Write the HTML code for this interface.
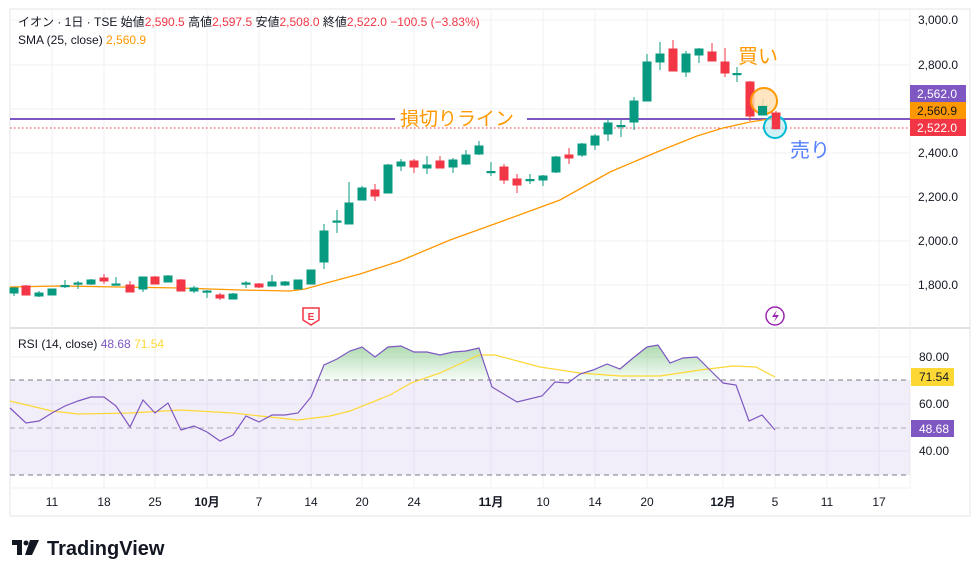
<!DOCTYPE html>
<html><head><meta charset="utf-8"><style>
body{margin:0;background:#fff;width:980px;height:577px;overflow:hidden;font-family:"Liberation Sans","Noto Sans CJK JP",sans-serif}
svg text{font-family:"Liberation Sans","Noto Sans CJK JP",sans-serif}
</style></head><body>
<svg width="980" height="577" viewBox="0 0 980 577" xmlns="http://www.w3.org/2000/svg">
<defs>
<linearGradient id="gf" x1="0" y1="340" x2="0" y2="380" gradientUnits="userSpaceOnUse"><stop offset="0" stop-color="#66bb6a" stop-opacity="0.6"/><stop offset="1" stop-color="#66bb6a" stop-opacity="0.05"/></linearGradient>
<clipPath id="above"><rect x="10" y="330" width="900" height="50"/></clipPath>
</defs>
<rect x="10" y="9" width="960" height="507" fill="none" stroke="#e6e6ea"/>
<line x1="10" y1="328" x2="970" y2="328" stroke="#e0e0e6" stroke-width="2"/>
<line x1="910" y1="9" x2="910" y2="488" stroke="#f0f0f3"/>
<!-- grid -->
<g stroke="#f0f0f3">
<line x1="10" y1="20" x2="910" y2="20"/><line x1="10" y1="65" x2="910" y2="65"/><line x1="10" y1="109" x2="910" y2="109"/><line x1="10" y1="153" x2="910" y2="153"/><line x1="10" y1="197" x2="910" y2="197"/><line x1="10" y1="241" x2="910" y2="241"/><line x1="10" y1="285" x2="910" y2="285"/>
<line x1="10" y1="357" x2="910" y2="357"/><line x1="10" y1="404" x2="910" y2="404"/><line x1="10" y1="451" x2="910" y2="451"/>
<line x1="52" y1="10" x2="52" y2="488"/><line x1="104" y1="10" x2="104" y2="488"/><line x1="155" y1="10" x2="155" y2="488"/><line x1="207" y1="10" x2="207" y2="488"/><line x1="259" y1="10" x2="259" y2="488"/><line x1="311" y1="10" x2="311" y2="488"/><line x1="362" y1="10" x2="362" y2="488"/><line x1="414" y1="10" x2="414" y2="488"/><line x1="491" y1="10" x2="491" y2="488"/><line x1="543" y1="10" x2="543" y2="488"/><line x1="595" y1="10" x2="595" y2="488"/><line x1="647" y1="10" x2="647" y2="488"/><line x1="723" y1="10" x2="723" y2="488"/><line x1="775" y1="10" x2="775" y2="488"/><line x1="827" y1="10" x2="827" y2="488"/><line x1="879" y1="10" x2="879" y2="488"/>
</g>
<!-- legend -->
<text x="18" y="26" font-size="12" fill="#131722">イオン · 1日 · TSE  始値<tspan fill="#f23645">2,590.5</tspan>  高値<tspan fill="#f23645">2,597.5</tspan>  安値<tspan fill="#f23645">2,508.0</tspan>  終値<tspan fill="#f23645">2,522.0  −100.5 (−3.83%)</tspan></text>
<text x="18" y="44" font-size="12" fill="#131722">SMA (25, close)  <tspan fill="#ff9800">2,560.9</tspan></text>
<!-- lines -->
<line x1="10" y1="119" x2="395" y2="119" stroke="#7e57c2" stroke-width="2"/>
<line x1="527" y1="119" x2="910" y2="119" stroke="#7e57c2" stroke-width="2"/>
<line x1="10" y1="128" x2="910" y2="128" stroke="#f23645" stroke-dasharray="1.5,2.5"/>
<text x="400" y="125" font-size="19" fill="#ff9800">損切りライン</text>
<polyline fill="none" stroke="#ff9800" stroke-width="1.3" points="10,287 60,286 120,287 180,288 240,290 290,291 305,289 330,282 360,274 400,261 450,240 500,222 560,200 610,172 657,152 697,136 723,128 750,122 776,118"/>
<!-- candles -->
<g stroke-width="1">
<g stroke="#089981" fill="#089981">
<line x1="14" y1="287" x2="14" y2="296"/><rect x="10" y="288" width="8" height="5"/>
<line x1="39" y1="291" x2="39" y2="297"/><rect x="35" y="293" width="8" height="3"/>
<line x1="52" y1="289" x2="52" y2="295"/><rect x="48" y="289" width="8" height="6"/>
<line x1="65" y1="280" x2="65" y2="288"/><rect x="61" y="285.5" width="8" height="1.2"/>
<line x1="78" y1="281" x2="78" y2="289"/><rect x="74" y="283" width="8" height="1.2"/>
<line x1="91" y1="279" x2="91" y2="285"/><rect x="87" y="280" width="8" height="4"/>
<line x1="116" y1="277" x2="116" y2="285"/><rect x="112" y="284" width="8" height="1.2"/>
<line x1="143" y1="277" x2="143" y2="292"/><rect x="139" y="277" width="8" height="12"/>
<line x1="168" y1="275" x2="168" y2="282"/><rect x="164" y="276" width="8" height="6"/>
<line x1="194" y1="286" x2="194" y2="293"/><rect x="190" y="288" width="8" height="3"/>
<line x1="207" y1="290" x2="207" y2="298"/><rect x="203" y="291" width="8" height="1.2"/>
<line x1="233" y1="293" x2="233" y2="299"/><rect x="229" y="294" width="8" height="5"/>
<line x1="246" y1="281" x2="246" y2="288"/><rect x="242" y="283" width="8" height="1.2"/>
<line x1="272" y1="275" x2="272" y2="286"/><rect x="268" y="282" width="8" height="4"/>
<line x1="285" y1="281" x2="285" y2="286"/><rect x="281" y="282" width="8" height="3"/>
<line x1="298" y1="280" x2="298" y2="289"/><rect x="294" y="280" width="8" height="9"/>
<line x1="311" y1="270" x2="311" y2="284"/><rect x="307" y="270" width="8" height="14"/>
<line x1="324" y1="224" x2="324" y2="269"/><rect x="320" y="231" width="8" height="31"/>
<line x1="337" y1="210" x2="337" y2="233"/><rect x="333" y="221" width="8" height="1.2"/>
<line x1="349" y1="182" x2="349" y2="224"/><rect x="345" y="203" width="8" height="21"/>
<line x1="362" y1="186" x2="362" y2="200"/><rect x="358" y="188" width="8" height="12"/>
<line x1="388" y1="164" x2="388" y2="193"/><rect x="384" y="165" width="8" height="28"/>
<line x1="401" y1="159" x2="401" y2="171"/><rect x="397" y="162" width="8" height="4"/>
<line x1="427" y1="156" x2="427" y2="174"/><rect x="423" y="165" width="8" height="3"/>
<line x1="453" y1="158" x2="453" y2="173"/><rect x="449" y="160" width="8" height="7"/>
<line x1="466" y1="150" x2="466" y2="165"/><rect x="462" y="155" width="8" height="9"/>
<line x1="479" y1="141" x2="479" y2="155"/><rect x="475" y="146" width="8" height="8"/>
<line x1="491" y1="162" x2="491" y2="176"/><rect x="487" y="171.5" width="8" height="1.2"/>
<line x1="530" y1="174" x2="530" y2="184"/><rect x="526" y="179.5" width="8" height="1.2"/>
<line x1="543" y1="175" x2="543" y2="186"/><rect x="539" y="176" width="8" height="4"/>
<line x1="556" y1="156" x2="556" y2="173"/><rect x="552" y="157" width="8" height="15"/>
<line x1="582" y1="143" x2="582" y2="157"/><rect x="578" y="144" width="8" height="11"/>
<line x1="595" y1="134" x2="595" y2="150"/><rect x="591" y="136" width="8" height="9"/>
<line x1="608" y1="119" x2="608" y2="141"/><rect x="604" y="123" width="8" height="11"/>
<line x1="621" y1="120" x2="621" y2="137"/><rect x="617" y="125.5" width="8" height="1.2"/>
<line x1="634" y1="97" x2="634" y2="130"/><rect x="630" y="101" width="8" height="21"/>
<line x1="647" y1="54" x2="647" y2="101"/><rect x="643" y="62" width="8" height="39"/>
<line x1="660" y1="42" x2="660" y2="70"/><rect x="656" y="54" width="8" height="8"/>
<line x1="686" y1="51" x2="686" y2="77"/><rect x="682" y="54" width="8" height="18"/>
<line x1="699" y1="48" x2="699" y2="63"/><rect x="695" y="49" width="8" height="6"/>
<line x1="737" y1="67" x2="737" y2="82"/><rect x="733" y="73.5" width="8" height="1.2"/>
<line x1="763" y1="99" x2="763" y2="115"/><rect x="759" y="106" width="8" height="9"/>
</g>
<g stroke="#f23645" fill="#f23645">
<line x1="26" y1="285" x2="26" y2="295"/><rect x="22" y="286" width="8" height="9"/>
<line x1="104" y1="274" x2="104" y2="284"/><rect x="100" y="278" width="8" height="3"/>
<line x1="130" y1="281" x2="130" y2="292"/><rect x="126" y="285" width="8" height="7"/>
<line x1="155" y1="276" x2="155" y2="284"/><rect x="151" y="277" width="8" height="7"/>
<line x1="181" y1="279" x2="181" y2="291"/><rect x="177" y="280" width="8" height="11"/>
<line x1="220" y1="293" x2="220" y2="300"/><rect x="216" y="295" width="8" height="3"/>
<line x1="259" y1="283" x2="259" y2="288"/><rect x="255" y="284" width="8" height="3"/>
<line x1="375" y1="184" x2="375" y2="201"/><rect x="371" y="190" width="8" height="6"/>
<line x1="414" y1="159" x2="414" y2="173"/><rect x="410" y="161" width="8" height="6"/>
<line x1="440" y1="156" x2="440" y2="168"/><rect x="436" y="161" width="8" height="7"/>
<line x1="504" y1="164" x2="504" y2="184"/><rect x="500" y="167" width="8" height="13"/>
<line x1="517" y1="174" x2="517" y2="193"/><rect x="513" y="179" width="8" height="6"/>
<line x1="569" y1="148" x2="569" y2="164"/><rect x="565" y="155" width="8" height="3"/>
<line x1="673" y1="40" x2="673" y2="71"/><rect x="669" y="49" width="8" height="22"/>
<line x1="712" y1="43" x2="712" y2="61"/><rect x="708" y="52" width="8" height="9"/>
<line x1="725" y1="48" x2="725" y2="77"/><rect x="721" y="62" width="8" height="11"/>
<line x1="750" y1="81" x2="750" y2="121"/><rect x="746" y="82" width="8" height="34"/>
<line x1="776" y1="111" x2="776" y2="130"/><rect x="772" y="113" width="8" height="16"/>
</g>
</g>
<!-- annotations -->
<circle cx="764" cy="101" r="13" fill="#ffe0b2" fill-opacity="0.8" stroke="#ff9800" stroke-width="2"/>
<circle cx="775" cy="127" r="11" fill="#b2ebf2" fill-opacity="0.6" stroke="#00bcd4" stroke-width="2"/>
<rect x="758" y="106" width="9" height="9" fill="#089981"/>
<rect x="772" y="113" width="8" height="16" fill="#f23645"/>
<text x="738" y="63" font-size="20" fill="#ff9800">買い</text>
<text x="790" y="157" font-size="20" fill="#2962ff" fill-opacity="0.8">売り</text>
<path d="M303,308 h16 v12 l-8,5 l-8,-5 z" fill="#fff" stroke="#f23645" stroke-width="1.5"/>
<text x="311" y="320" font-size="10" font-weight="bold" fill="#f23645" text-anchor="middle">E</text>
<circle cx="775" cy="316" r="9" fill="#fff" stroke="#9c27b0" stroke-width="1.5"/>
<path d="M777,310 l-5,7 h4 l-2,5 l5,-7 h-4 z" fill="#9c27b0"/>
<!-- price axis -->
<g font-size="12" fill="#131722">
<text x="918" y="24">3,000.0</text><text x="918" y="69">2,800.0</text><text x="918" y="157">2,400.0</text><text x="918" y="201">2,200.0</text><text x="918" y="245">2,000.0</text><text x="918" y="289">1,800.0</text>
</g>
<rect x="910" y="85" width="56" height="17" fill="#7e57c2"/><text x="917" y="98" font-size="12" fill="#fff">2,562.0</text>
<rect x="910" y="102" width="56" height="17" fill="#ff9800"/><text x="917" y="115" font-size="12" fill="#131722">2,560.9</text>
<rect x="910" y="119" width="56" height="17" fill="#f23645"/><text x="917" y="132" font-size="12" fill="#fff">2,522.0</text>
<!-- RSI -->
<rect x="10" y="380" width="900" height="95" fill="#7e57c2" fill-opacity="0.1"/>
<g stroke="#787b86" stroke-dasharray="5,4"><line x1="10" y1="380" x2="910" y2="380"/><line x1="10" y1="428" x2="910" y2="428" stroke-opacity="0.6"/><line x1="10" y1="475" x2="910" y2="475"/></g>
<polygon clip-path="url(#above)" fill="url(#gf)" points="298,380 298,413 311,397 324,365 337,359 350,351 362,347 375,357 388,347 401,346 414,352 427,352 440,355 453,352 466,351 479,348 491,387 504,397 517,402 542,396 555,382 568,383 580,374 593,370 607,364 620,369 633,358 647,347 658,345 670,363 683,358 697,357 710,370 723,383 736,385 736,380"/>
<text x="18" y="348" font-size="12" fill="#131722">RSI (14, close)  <tspan fill="#7e57c2">48.68</tspan>  <tspan fill="#fdd835">71.54</tspan></text>
<polyline fill="none" stroke="#fdd835" stroke-width="1.2" points="10,401 52,411 78,414 130,413 181,410 233,413 260,416 298,420 330,416 350,411 390,395 411,383 440,373 479,355 495,355 540,367 580,373 620,376 660,376 700,370 733,366 756,367 775,377"/>
<polyline fill="none" stroke="#7e57c2" stroke-width="1.2" points="10,408 26,423 39,421 52,413 65,406 78,401 91,397 104,397 116,406 130,427 143,400 155,413 168,403 181,430 194,426 207,432 220,441 233,435 246,416 259,422 272,415 285,415 298,413 311,397 324,365 337,359 350,351 362,347 375,357 388,347 401,346 414,352 427,352 440,355 453,352 466,351 479,348 492,387 517,402 542,396 555,382 568,383 580,374 593,370 607,364 620,369 633,358 647,347 658,345 670,363 683,358 697,357 710,370 723,383 736,385 749,421 762,415 775,430"/>
<g font-size="12" fill="#131722"><text x="919" y="361">80.00</text><text x="919" y="408">60.00</text><text x="919" y="455">40.00</text></g>
<rect x="911" y="368" width="43" height="18" fill="#fdd835"/><text x="919" y="381" font-size="12" fill="#131722">71.54</text>
<rect x="911" y="420" width="43" height="17" fill="#7e57c2"/><text x="919" y="433" font-size="12" fill="#fff">48.68</text>
<!-- time axis -->
<line x1="10" y1="488" x2="910" y2="488" stroke="#f0f0f3"/>
<g font-size="12" fill="#131722" text-anchor="middle">
<text x="52" y="506">11</text><text x="104" y="506">18</text><text x="155" y="506">25</text><text x="207" y="506" font-weight="bold">10月</text><text x="259" y="506">7</text><text x="311" y="506">14</text><text x="362" y="506">20</text><text x="414" y="506">24</text><text x="491" y="506" font-weight="bold">11月</text><text x="543" y="506">10</text><text x="595" y="506">14</text><text x="647" y="506">20</text><text x="723" y="506" font-weight="bold">12月</text><text x="775" y="506">5</text><text x="827" y="506">11</text><text x="879" y="506">17</text>
</g>
<!-- logo -->
<g fill="#131722"><rect x="12" y="540" width="10" height="5"/><rect x="17" y="540" width="5" height="15"/><circle cx="26" cy="543" r="2.5"/><path d="M30,540 h9 l-7,15 h-7 z"/></g>
<text x="47" y="555" font-size="20" font-weight="bold" fill="#131722">TradingView</text>
</svg>
</body></html>
